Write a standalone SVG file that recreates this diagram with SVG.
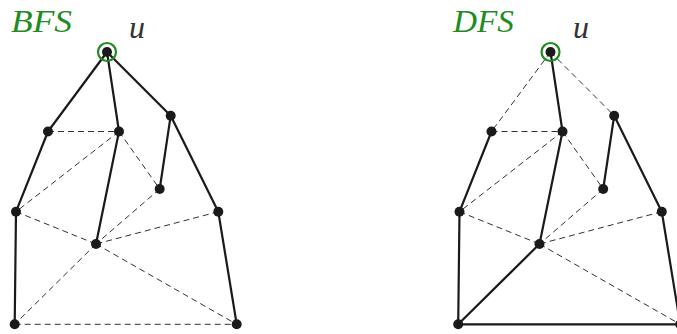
<svg xmlns="http://www.w3.org/2000/svg" width="677" height="334" viewBox="0 0 677 334">
<style>
.t{stroke:#1a1a1a;stroke-width:2.2;fill:none;stroke-linecap:round}
.d{stroke:#1a1a1a;stroke-width:0.9;fill:none;stroke-dasharray:6,4}
.n{fill:#1a1a1a}
.r{fill:none;stroke:#1e8c1e;stroke-width:2.2}
.lab{font-family:"Liberation Serif",serif;font-style:italic;fill:#1e8c1e;font-size:32px}
.u{font-family:"Liberation Serif",serif;font-style:italic;fill:#333;font-size:32px}
</style>
<rect width="677" height="334" fill="#fff"/>
<text class="lab" x="11" y="32" textLength="61" lengthAdjust="spacingAndGlyphs">BFS</text>
<text class="u" x="129" y="38">u</text>
<text class="lab" x="453" y="32" textLength="61" lengthAdjust="spacingAndGlyphs">DFS</text>
<text class="u" x="573" y="38">u</text>
<g id="connectors">
<g id="bfs-edges">
<line class="t" x1="107" y1="52" x2="48" y2="131.5"/>
<line class="t" x1="107" y1="52" x2="119" y2="131.5"/>
<line class="t" x1="107" y1="52" x2="170.7" y2="115.7"/>
<line class="t" x1="48" y1="131.5" x2="16" y2="211.7"/>
<line class="t" x1="119" y1="131.5" x2="96" y2="244"/>
<line class="t" x1="170.7" y1="115.7" x2="159.7" y2="189"/>
<line class="t" x1="170.7" y1="115.7" x2="218.3" y2="211.7"/>
<line class="t" x1="16" y1="211.7" x2="14.7" y2="324.3"/>
<line class="t" x1="218.3" y1="211.7" x2="236.7" y2="324.3"/>
<line class="d" x1="48" y1="131.5" x2="119" y2="131.5"/>
<line class="d" x1="119" y1="131.5" x2="16" y2="211.7"/>
<line class="d" x1="119" y1="131.5" x2="159.7" y2="189"/>
<line class="d" x1="16" y1="211.7" x2="96" y2="244"/>
<line class="d" x1="159.7" y1="189" x2="96" y2="244"/>
<line class="d" x1="218.3" y1="211.7" x2="96" y2="244"/>
<line class="d" x1="96" y1="244" x2="14.7" y2="324.3"/>
<line class="d" x1="96" y1="244" x2="236.7" y2="324.3"/>
<line class="d" x1="14.7" y1="324.3" x2="236.7" y2="324.3"/>
</g>
<g id="dfs-edges" transform="translate(443.5,0)">
<line class="d" x1="107" y1="52" x2="48" y2="131.5"/>
<line class="t" x1="107" y1="52" x2="119" y2="131.5"/>
<line class="d" x1="107" y1="52" x2="170.7" y2="115.7"/>
<line class="t" x1="48" y1="131.5" x2="16" y2="211.7"/>
<line class="t" x1="119" y1="131.5" x2="96" y2="244"/>
<line class="t" x1="170.7" y1="115.7" x2="159.7" y2="189"/>
<line class="t" x1="170.7" y1="115.7" x2="218.3" y2="211.7"/>
<line class="t" x1="16" y1="211.7" x2="14.7" y2="324.3"/>
<line class="t" x1="218.3" y1="211.7" x2="236.7" y2="324.3"/>
<line class="d" x1="48" y1="131.5" x2="119" y2="131.5"/>
<line class="d" x1="119" y1="131.5" x2="16" y2="211.7"/>
<line class="d" x1="119" y1="131.5" x2="159.7" y2="189"/>
<line class="d" x1="16" y1="211.7" x2="96" y2="244"/>
<line class="d" x1="159.7" y1="189" x2="96" y2="244"/>
<line class="d" x1="218.3" y1="211.7" x2="96" y2="244"/>
<line class="t" x1="96" y1="244" x2="14.7" y2="324.3"/>
<line class="d" x1="96" y1="244" x2="236.7" y2="324.3"/>
<line class="t" x1="14.7" y1="324.3" x2="236.7" y2="324.3"/>
</g>
</g>
<g id="bfs-nodes">
<g id="bfs-u"><circle class="n" cx="107" cy="52" r="5"/><circle class="r" cx="107" cy="52" r="9"/></g>
<g id="bfs-a"><circle class="n" cx="48" cy="131.5" r="5"/></g>
<g id="bfs-b"><circle class="n" cx="119" cy="131.5" r="5"/></g>
<g id="bfs-c"><circle class="n" cx="170.7" cy="115.7" r="5"/></g>
<g id="bfs-d"><circle class="n" cx="159.7" cy="189" r="5"/></g>
<g id="bfs-e"><circle class="n" cx="16" cy="211.7" r="5"/></g>
<g id="bfs-f"><circle class="n" cx="218.3" cy="211.7" r="5"/></g>
<g id="bfs-g"><circle class="n" cx="96" cy="244" r="5"/></g>
<g id="bfs-h"><circle class="n" cx="14.7" cy="324.3" r="5"/></g>
<g id="bfs-i"><circle class="n" cx="236.7" cy="324.3" r="5"/></g>
</g>
<g id="dfs-nodes" transform="translate(443.5,0)">
<g id="dfs-u"><circle class="n" cx="107" cy="52" r="5"/><circle class="r" cx="107" cy="52" r="9"/></g>
<g id="dfs-a"><circle class="n" cx="48" cy="131.5" r="5"/></g>
<g id="dfs-b"><circle class="n" cx="119" cy="131.5" r="5"/></g>
<g id="dfs-c"><circle class="n" cx="170.7" cy="115.7" r="5"/></g>
<g id="dfs-d"><circle class="n" cx="159.7" cy="189" r="5"/></g>
<g id="dfs-e"><circle class="n" cx="16" cy="211.7" r="5"/></g>
<g id="dfs-f"><circle class="n" cx="218.3" cy="211.7" r="5"/></g>
<g id="dfs-g"><circle class="n" cx="96" cy="244" r="5"/></g>
<g id="dfs-h"><circle class="n" cx="14.7" cy="324.3" r="5"/></g>
<g id="dfs-i"><circle class="n" cx="236.7" cy="324.3" r="5"/></g>
</g>
</svg>
